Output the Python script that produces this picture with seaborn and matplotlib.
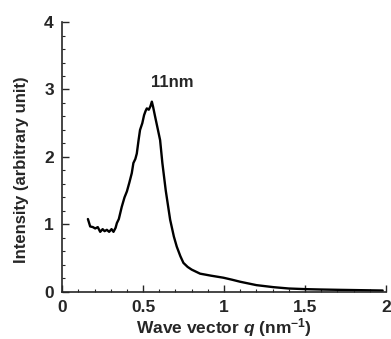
import matplotlib
matplotlib.use("Agg")
import matplotlib.pyplot as plt
import seaborn as sns
import pandas as pd
from matplotlib.ticker import MultipleLocator

q = [0.159, 0.173, 0.19, 0.204, 0.22, 0.235, 0.25, 0.262, 0.276, 0.29, 0.305, 0.317, 0.33, 0.338,
     0.35, 0.368, 0.385, 0.4, 0.415, 0.43, 0.44, 0.452, 0.461, 0.472, 0.481, 0.495, 0.506, 0.515,
     0.523, 0.535, 0.545, 0.554, 0.562, 0.574, 0.59, 0.605, 0.619, 0.64, 0.667, 0.69, 0.708, 0.73,
     0.749, 0.775, 0.8, 0.852, 0.92, 0.996, 1.05, 1.1, 1.2, 1.305, 1.4, 1.51, 1.6, 1.716, 1.85, 1.98]
intensity = [1.08, 0.97, 0.96, 0.94, 0.96, 0.89, 0.93, 0.9, 0.92, 0.89, 0.93, 0.89, 0.95, 1.02,
             1.08, 1.26, 1.4, 1.49, 1.62, 1.76, 1.91, 1.97, 2.05, 2.25, 2.4, 2.5, 2.62, 2.68,
             2.72, 2.7, 2.75, 2.82, 2.74, 2.6, 2.42, 2.25, 1.91, 1.5, 1.07, 0.82, 0.67, 0.53,
             0.43, 0.37, 0.33, 0.27, 0.24, 0.21, 0.18, 0.15, 0.1, 0.07, 0.05, 0.04, 0.035, 0.03, 0.025, 0.02]
x_ticks = [0, 0.5, 1, 1.5, 2]
x_tick_labels = ["0", "0.5", "1", "1.5", "2"]
y_ticks = [0, 1, 2, 3, 4]
annotation = "11nm"

df = pd.DataFrame({"q": q, "I": intensity})

sns.set_style("ticks")
plt.rcParams["font.family"] = ["Liberation Sans", "DejaVu Sans"]
plt.rcParams["mathtext.fontset"] = "custom"
plt.rcParams["mathtext.it"] = "Liberation Sans:italic:bold"
plt.rcParams["mathtext.rm"] = "Liberation Sans:bold"

fig = plt.figure(figsize=(3.91, 3.39), dpi=100)
ax = fig.add_axes([0.159, 0.139, 0.828, 0.796])
sns.lineplot(data=df, x="q", y="I", ax=ax, color="black", linewidth=1.7, sort=False)

ax.set_xlim(0, 2)
ax.set_ylim(0, 4)
ax.set_xticks(x_ticks)
ax.set_xticklabels(x_tick_labels)
ax.set_yticks(y_ticks)
ax.xaxis.set_minor_locator(MultipleLocator(0.1))
ax.yaxis.set_minor_locator(MultipleLocator(0.2))
ax.tick_params(which="major", direction="in", length=5, width=1, labelsize=12.5, pad=6)
ax.tick_params(which="minor", direction="in", length=2.5, width=0.8)
for lab in ax.get_xticklabels() + ax.get_yticklabels():
    lab.set_fontweight("bold")
sns.despine(ax=ax)
for s in ["left", "bottom"]:
    ax.spines[s].set_linewidth(1.2)

ax.set_xlabel(r"Wave vector $q$ (nm$^{-1}$)", fontsize=12.5, fontweight="bold")
ax.xaxis.set_label_coords(0.5, -0.131)
ax.xaxis.label.set_va("center")
ax.set_ylabel("Intensity (arbitrary unit)", fontsize=12, fontweight="bold")
ax.yaxis.set_label_coords(-0.127, 0.452)
ax.yaxis.label.set_va("center")
ax.text(0.68, 3.11, annotation, fontsize=12, fontweight="bold", ha="center", va="center")

fig.savefig("out.png", dpi=100)
